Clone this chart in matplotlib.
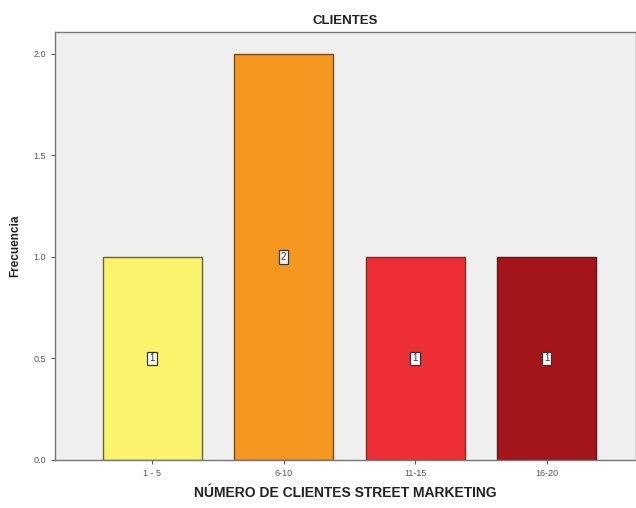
import matplotlib
matplotlib.use("Agg")
import matplotlib.pyplot as plt

plt.rcParams["font.family"] = ["Liberation Sans", "DejaVu Sans"]

categories = ["1 - 5", "6-10", "11-15", "16-20"]
counts = [1, 2, 1, 1]
fill_colors = ["#F9F46C", "#F5961E", "#EE2E36", "#A3141B"]
edge_colors = ["#6A6535", "#7A4A18", "#7E2E26", "#5A1812"]
y_ticks = [0.0, 0.5, 1.0, 1.5, 2.0]

fig = plt.figure(figsize=(6.36, 5.08), dpi=100)
ax = fig.add_axes([0.0865, 0.0945, 0.9135, 0.8425])
ax.set_facecolor("#EFEFEF")

x = range(len(categories))
bars = ax.bar(x, counts, width=0.753, color=fill_colors,
              edgecolor=edge_colors, linewidth=1.0, zorder=2)

for xi, c in zip(x, counts):
    ax.text(xi, c / 2, str(c), ha="center", va="center", fontsize=7,
            color="#333333", zorder=3,
            bbox=dict(boxstyle="square,pad=0.2", facecolor="white",
                      edgecolor="#333333", linewidth=0.9))

ax.set_xlim(-0.738, 3.68)
ax.set_ylim(0, 2.108)
ax.set_xticks(list(x))
ax.set_xticklabels(categories)
ax.set_yticks(y_ticks)
ax.set_yticklabels([f"{v:.1f}" for v in y_ticks])
ax.tick_params(axis="both", labelsize=6.5, colors="#555555", length=3, width=0.8)

for side in ["left", "bottom", "top", "right"]:
    ax.spines[side].set_color("#777777")
    ax.spines[side].set_linewidth(1.0)

ax.set_title("CLIENTES", fontsize=9.5, fontweight="bold", color="#222222", pad=6)
ax.set_xlabel("NÚMERO DE CLIENTES STREET MARKETING", fontsize=10,
              fontweight="bold", color="#222222", labelpad=6)
ax.set_ylabel("Frecuencia", fontsize=8.5, fontweight="bold", color="#222222", labelpad=9)

fig.savefig("out.png", dpi=100)
